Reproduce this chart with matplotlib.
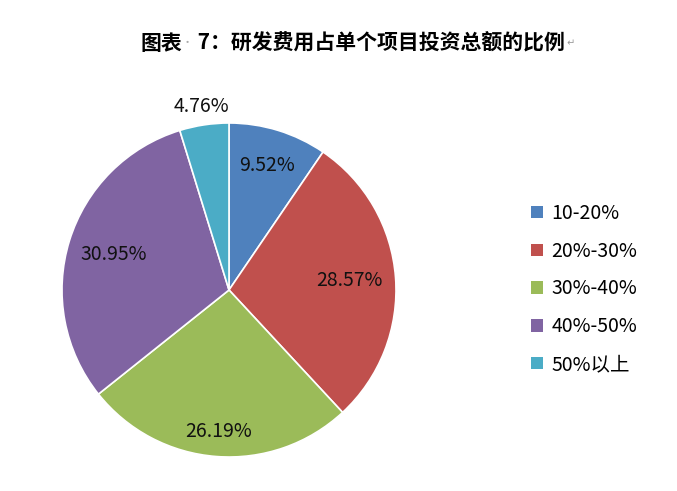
import matplotlib
matplotlib.use("Agg")
import matplotlib.pyplot as plt
import numpy as np

plt.rcParams['font.family'] = ['Noto Sans CJK SC', 'DejaVu Sans']

categories = ["10-20%", "20%-30%", "30%-40%", "40%-50%", "50%以上"]
values = [9.52, 28.57, 26.19, 30.95, 4.76]
value_labels = ["9.52%", "28.57%", "26.19%", "30.95%", "4.76%"]
colors = ["#4F81BD", "#C0504D", "#9BBB59", "#8064A2", "#4BACC6"]
label_dist = [0.78, 0.72, 0.85, 0.72, 1.11]

fig = plt.figure(figsize=(6.77, 4.91), dpi=100)
W, H = 677, 491
cx, cy, R = 229, 290, 167
ax = fig.add_axes([(cx - R) / W, (H - cy - R) / H, 2 * R / W, 2 * R / H])
wedges, _ = ax.pie(values, colors=colors, startangle=90, counterclock=False,
                   radius=1.0, wedgeprops=dict(edgecolor="white", linewidth=1.2))
ax.set_xlim(-1, 1)
ax.set_ylim(-1, 1)
ax.set_aspect('equal')
ax.axis('off')

for w, lab, d in zip(wedges, value_labels, label_dist):
    ang = np.deg2rad((w.theta1 + w.theta2) / 2)
    ax.text(d * np.cos(ang), d * np.sin(ang), lab, ha='center', va='center',
            fontsize=14, color='#111111', clip_on=False)

# Legend
handles = [plt.Rectangle((0, 0), 1, 1, facecolor=c, edgecolor='none') for c in colors]
leg = fig.legend(handles, categories, loc='center left',
                 bbox_to_anchor=(531 / W, (H - 289) / H), frameon=False,
                 fontsize=14, handlelength=0.6, handleheight=0.6,
                 handletextpad=0.45, labelspacing=0.86, borderaxespad=0,
                 borderpad=0)

# Title composed of pieces
fig.canvas.draw()
renderer = fig.canvas.get_renderer()
ty = 1 - 43 / H
x = 140 / W
pieces = [("图表", dict(fontsize=15, fontweight='bold', color='black')),
          ("·", dict(fontsize=8, color='#aaaaaa')),
          (" 7：研发费用占单个项目投资总额的比例", dict(fontsize=15, fontweight='bold', color='black')),
          (" ↵", dict(fontsize=7, color='#999999'))]
for s, kw in pieces:
    t = fig.text(x, ty, s, ha='left', va='center', **kw)
    bb = t.get_window_extent(renderer=renderer)
    x += bb.width / W

fig.savefig("out.png", dpi=100)
